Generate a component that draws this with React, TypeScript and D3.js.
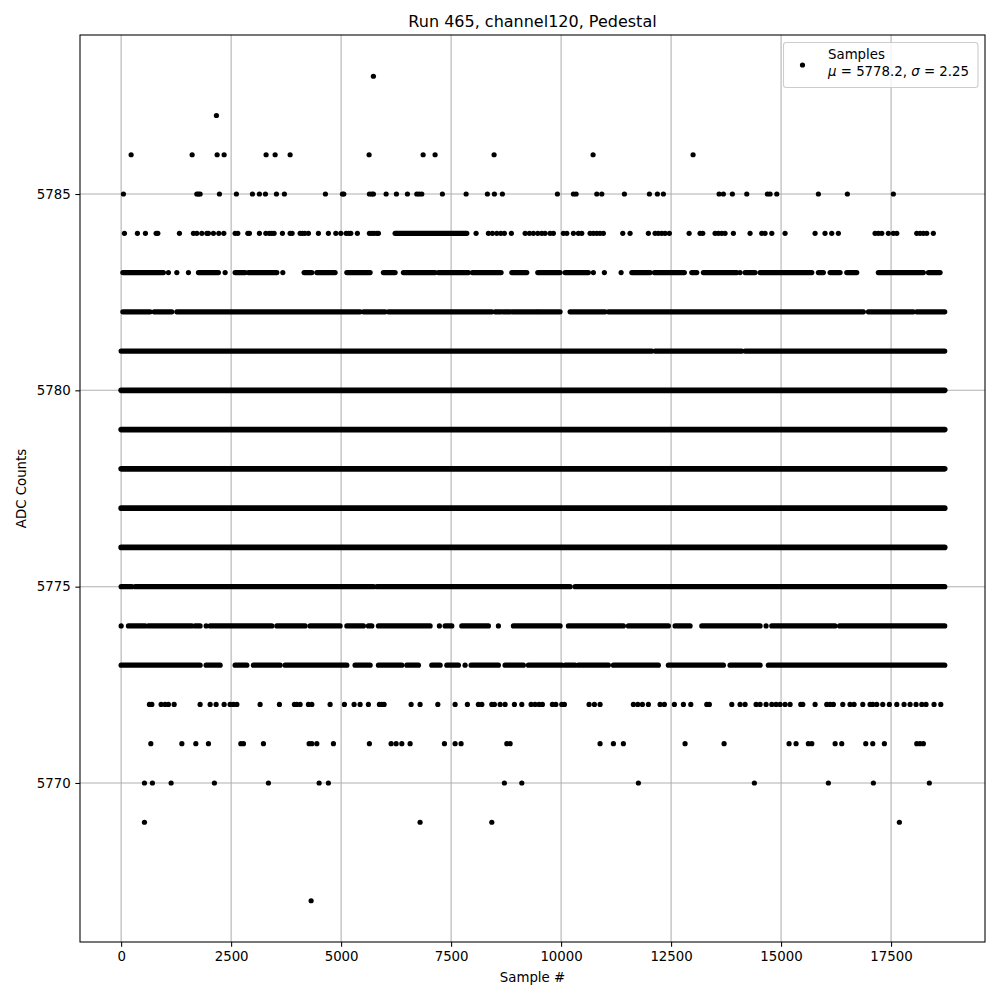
import * as d3 from "d3";
import { useEffect, useRef } from "react";

const title = "Run 465, channel120, Pedestal";
const xLabel = "Sample #";
const yLabel = "ADC Counts";
const xTicks = [0, 2500, 5000, 7500, 10000, 12500, 15000, 17500];
const yTicks = [5770, 5775, 5780, 5785];
const legendLabel = "Samples";
const mu = "5778.2";
const sigma = "2.25";
const lastSample = 18720;

// one sample index, or [first, last] for a stretch of samples packed too tight to tell apart
type Hit = number | [number, number];

const adc5788: Hit[] = [5734];
const adc5787: Hit[] = [2166];
const adc5786: Hit[] = [227, 1614, 2182, 2341, 3295, 3500, 3841, 5636, 6864, 7136, 8477, 10727, 13000];
const adc5785: Hit[] = [
  52, 1720, 1757, 1795, 2234, 2620, 2984, 3143, 3280, 3530, 3711, 4643, 5030, 5061, 5643, 5698, 5734,
  6023, 6257, 6507, 6720, 6773, 6834, 7302, 7841, 8325, 8484, 8666, 9916, 10280, 10341, 10811, 10925,
  11439, 12007, 12189, 12325, 13591, 13689, 13893, 14220, 14689, 14750, 14902, 15848, 16507, 17552,
];
const adc5784: Hit[] = [
  75, 370, 552, 795, 834, 1325, 1643, 1720, 1834, 1948, 1984, 2098, 2220, 2334, 2591, 2652, 2880, 2916,
  3143, 3289, 3370, 3425, 3477, 3666, 3841, 3886, 4068, 4120, 4175, 4257, 4484, 4711, 4880, 4993, 5114,
  5175, 5220, 5370, 5643, 5698, 5750, 5811, 5848, [6227, 7857], 8068, 8348, 8439, 8539, 8630, 8711,
  8870, 9182, 9280, 9370, 9470, 9561, 9636, 9750, 9825, 10052, 10130, 10280, 10393, 10470, 10659, 10734,
  10811, 10886, 10961, 11402, 11568, 11984, 12136, 12211, 12289, 12364, 12461, 12910, 13159, 13220,
  13500, 13575, 13652, 13727, 13916, 14295, 14561, 14636, 14789, 15091, 15773, 15999, 16152, 16302,
  17136, 17211, 17289, 17439, 17552, 17630, 18084, 18159, 18234, 18311, 18461,
];
const adc5783: Hit[] = [
  [39, 961], 1075, 1266, 1530, [1757, 2211], 2364, [2591, 2818], [2893, 3539], 3675, [4159, 4334],
  [4448, 4864], [5130, 5659], [5961, 6227], [6416, 7136], [7211, 7893], [7984, 8636], [8880, 9220],
  [9470, 9977], [10091, 10620], 10734, 10984, 11364, [11607, 12023], [12120, 12802], [12970, 13084],
  [13234, 13993], 14068, [14182, 14409], [14523, 15698], [15848, 15961], [16114, 16341], [16493, 16720],
  [17211, 18234], [18348, 18614],
];
const adc5782: Hit[] = [
  [39, 659], [750, 1152], [1266, 5432], [5507, 6000], [6075, 8425], [8500, 8636], [8689, 8841],
  [8893, 9448], [9484, 9977], [10205, 11000], [11075, 16870], [16984, 18007], [18084, lastSample],
];
const adc5781: Hit[] = [[0, 12061], [12136, 14107], [14182, lastSample]];
const adc5780: Hit[] = [[0, lastSample]];
const adc5779: Hit[] = [[0, lastSample]];
const adc5778: Hit[] = [[0, lastSample]];
const adc5777: Hit[] = [[0, lastSample]];
const adc5776: Hit[] = [[0, lastSample]];
const adc5775: Hit[] = [[0, 243], [318, 5734], [5811, 10205], [10318, lastSample]];
const adc5774: Hit[] = [
  0, [166, 545], [620, 1607], [1682, 1795], 1932, [2023, 3425], [3539, 4182], [4295, 4977], [5130, 5507],
  [5620, 5698], [5848, 7023], 7234, [7364, 7516], [7743, 8348], 8575, [8916, 9977], [10166, 11416],
  [11530, 12439], [12591, 12932], [13198, 14523], 14659, [14789, 16225], [16330, lastSample],
];
const adc5773: Hit[] = [
  [0, 1795], [1932, 2250], [2591, 2857], [3007, 3614], [3727, 5130], [5318, 5659], [5848, 6380],
  [6493, 6757], [7061, 7250], [7402, 7666], 7818, [7955, 8575], [8727, 9143], [9257, 10016],
  [10091, 10318], [10393, 11075], [11189, 12211], [12439, 13689], [13841, 14523], [14711, lastSample],
];
const adc5772: Hit[] = [
  643, 698, 909, 1000, 1075, 1205, 1795, 2023, 2159, 2341, 2477, 2552, 2630, 3159, 3598, 3939, 3993,
  4068, 4257, 4334, 4750, 5075, 5295, 5432, 5620, 5870, 5925, 5977, 6591, 6795, 7198, 7591, 7870, 8120,
  8198, 8425, 8484, 8614, 8727, 8939, 9107, 9318, 9409, 9500, 9575, 9802, 9880, 10016, 10075, 10636,
  10757, 10886, 11643, 11743, 11848, 11984, 12250, 12348, 12575, 12780, 12948, 13311, 13370, 13880,
  14068, 14182, 14432, 14523, 14659, 14789, 14886, 14977, 15091, 15205, 15448, 15493, 15773, 16038,
  16114, 16189, 16402, 16568, 16659, 16857, 17023, 17084, 17175, 17311, 17461, 17630, 17795, 17932,
  18068, 18198, 18295, 18477, 18630,
];
const adc5771: Hit[] = [
  675, 1380, 1698, 1984, 2720, 2780, 3234, 4273, 4334, 4448, 4825, 5643, 6136, 6250, 6380, 6568, 7348,
  7591, 7727, 8766, 8841, 10886, 11189, 11416, 12818, 13705, 15182, 15341, 15620, 15698, 16229, 16379,
  16925, 17084, 17348, 18084, 18159, 18234,
];
const adc5770: Hit[] = [530, 711, 1136, 2120, 3348, 4500, 4711, 8711, 9107, 11757, 14393, 16075, 17098, 18370];
const adc5769: Hit[] = [530, 6795, 8425, 17689];
const adc5767: Hit[] = [4318];

const levels: [number, Hit[]][] = [
  [5788, adc5788], [5787, adc5787], [5786, adc5786], [5785, adc5785], [5784, adc5784],
  [5783, adc5783], [5782, adc5782], [5781, adc5781], [5780, adc5780], [5779, adc5779],
  [5778, adc5778], [5777, adc5777], [5776, adc5776], [5775, adc5775], [5774, adc5774],
  [5773, adc5773], [5772, adc5772], [5771, adc5771], [5770, adc5770], [5769, adc5769],
  [5767, adc5767],
];

export default function App() {
  const ref = useRef<SVGSVGElement>(null);

  useEffect(() => {
    const svg = d3.select(ref.current);
    svg.selectAll("*").remove();

    const width = 1000;
    const height = 1000;
    const left = 80, right = 985, top = 35, bottom = 942;
    const font = "DejaVu Sans, sans-serif";

    svg.attr("width", width).attr("height", height);
    svg.append("rect").attr("width", width).attr("height", height).attr("fill", "white");

    const x = d3.scaleLinear().domain([-935, 19635]).range([left, right]);
    const y = d3.scaleLinear().domain([5765.95, 5789.05]).range([bottom, top]);

    // grid
    const grid = svg.append("g").attr("stroke", "#b0b0b0").attr("stroke-width", 1.07);
    grid.selectAll("line.gx")
      .data(xTicks)
      .join("line")
      .attr("x1", d => x(d)).attr("x2", d => x(d))
      .attr("y1", top).attr("y2", bottom);
    grid.selectAll("line.gy")
      .data(yTicks)
      .join("line")
      .attr("class", "gy")
      .attr("y1", d => y(d)).attr("y2", d => y(d))
      .attr("x1", left).attr("x2", right);

    // samples
    const hits = levels.flatMap(([adc, list]) =>
      list.map(h => {
        const [a, b] = typeof h === "number" ? [h, h] : h;
        return { adc, a, b };
      })
    );
    svg.append("g")
      .selectAll("line")
      .data(hits)
      .join("line")
      .attr("x1", d => x(d.a))
      .attr("x2", d => x(d.b))
      .attr("y1", d => y(d.adc))
      .attr("y2", d => y(d.adc))
      .attr("stroke", "black")
      .attr("stroke-width", d => (d.b - d.a > 15000 ? 5.6 : 5.2))
      .attr("stroke-linecap", "round");

    // frame
    svg.append("rect")
      .attr("x", left).attr("y", top)
      .attr("width", right - left).attr("height", bottom - top)
      .attr("fill", "none").attr("stroke", "black").attr("stroke-width", 1.07);

    // axes
    const xAxis = svg.append("g")
      .attr("transform", `translate(0,${bottom})`)
      .call(d3.axisBottom(x).tickValues(xTicks).tickSize(4.67).tickPadding(4.67).tickFormat(d3.format("d")));
    const yAxis = svg.append("g")
      .attr("transform", `translate(${left},0)`)
      .call(d3.axisLeft(y).tickValues(yTicks).tickSize(4.67).tickPadding(4.67).tickFormat(d3.format("d")));
    [xAxis, yAxis].forEach(ax => {
      ax.select(".domain").remove();
      ax.selectAll("line").attr("stroke", "black").attr("stroke-width", 1.07);
      ax.selectAll("text")
        .attr("fill", "black")
        .style("font-family", font)
        .style("font-size", "13.33px");
    });

    // titles
    svg.append("text")
      .attr("x", (left + right) / 2).attr("y", 27)
      .attr("text-anchor", "middle")
      .style("font-family", font).style("font-size", "16px")
      .text(title);
    svg.append("text")
      .attr("x", (left + right) / 2).attr("y", 982)
      .attr("text-anchor", "middle")
      .style("font-family", font).style("font-size", "13.33px")
      .text(xLabel);
    svg.append("text")
      .attr("transform", `translate(26,${(top + bottom) / 2}) rotate(-90)`)
      .attr("text-anchor", "middle")
      .style("font-family", font).style("font-size", "13.33px")
      .text(yLabel);

    // legend
    const legend = svg.append("g");
    legend.append("rect")
      .attr("x", 783.5).attr("y", 42.5)
      .attr("width", 194.5).attr("height", 45)
      .attr("rx", 2.8)
      .attr("fill", "white").attr("fill-opacity", 0.8)
      .attr("stroke", "#cccccc").attr("stroke-width", 1.07);
    legend.append("circle")
      .attr("cx", 802.5).attr("cy", 65)
      .attr("r", 2.6)
      .attr("fill", "black");
    legend.append("text")
      .attr("x", 828).attr("y", 59)
      .style("font-family", font).style("font-size", "13.33px")
      .text(legendLabel);
    const stats = legend.append("text")
      .attr("x", 828).attr("y", 76)
      .style("font-family", font).style("font-size", "13.33px");
    stats.append("tspan").style("font-style", "italic").text("\u03bc");
    stats.append("tspan").text(` = ${mu}, `);
    stats.append("tspan").style("font-style", "italic").text("\u03c3");
    stats.append("tspan").text(` = ${sigma}`);
  }, []);

  return (
    <div style={{ position: "absolute", left: 0, top: 0 }}>
      <svg ref={ref} style={{ display: "block" }}></svg>
    </div>
  );
}
